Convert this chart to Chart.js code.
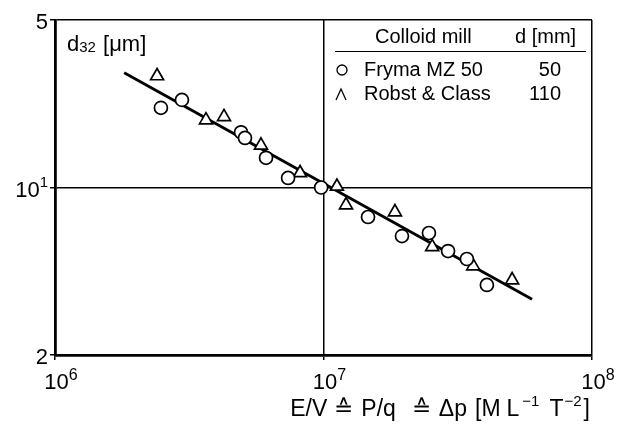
<!DOCTYPE html>
<html><head><meta charset="utf-8">
<script src="https://cdn.jsdelivr.net/npm/chart.js@4/dist/chart.umd.min.js"></script>
<style>html,body{margin:0;padding:0;background:#fff;} #wrap{width:617px;height:427px;position:relative;}</style>
</head><body><div id="wrap"><canvas id="c" width="617" height="427" style="width:617px;height:427px;"></canvas></div>
<script>
// Fryma MZ 50 (circles)
const frymaX = [2.48e6, 2.97e6, 4.93e6, 5.10e6, 6.11e6, 7.38e6, 9.8e6, 1.465e7, 1.96e7, 2.47e7, 2.91e7, 3.42e7, 4.06e7];
const frymaY = [21.5, 23.2, 17.0, 16.1, 13.3, 10.96, 10.0, 7.53, 6.27, 6.46, 5.43, 5.03, 3.92];
// Robst & Class (triangles)
const robstX = [2.40e6, 3.65e6, 4.26e6, 5.85e6, 8.18e6, 1.122e7, 1.213e7, 1.845e7, 2.54e7, 3.61e7, 5.04e7];
const robstY = [29.2, 19.1, 19.7, 15.0, 11.5, 10.1, 8.45, 7.9, 5.65, 4.70, 4.11];
// fitted line
const fitX = [1.81e6, 5.98e7];
const fitY = [30.1, 3.42];
// ticks: [base, exponent]
const xTickValues = [1e6, 1e7, 1e8];
const xTickLabels = [['10', '6'], ['10', '7'], ['10', '8']];
const yTickValues = [2, 10, 50];
const yTickLabels = [['2', ''], ['10', '1'], ['5', '']];
// legend table
const legendHeader = ['Colloid mill', 'd [mm]'];
const legendNames = ['Fryma MZ 50', 'Robst & Class'];
const legendSizes = ['50', '110'];
// axis titles: [text, kind (0 normal, 1 superscript, 2 subscript), gap before]
const xTitleParts = [['E/V', 0, 0], ['≙', 0, 7], ['P/q', 0, 8], ['≙', 0, 16], ['Δp', 0, 8], ['[M', 0, 8], ['L', 0, 6], ['−1', 1, 3], ['T', 0, 10], ['−2', 1, 1], [']', 0, 2]];
const yTitleParts = [['d', 0], ['32', 2], [' [μm]', 0]];

const FONT = '"Liberation Sans", Arial, Helvetica, sans-serif';
const pts = (xs, ys) => xs.map((x, i) => ({x: x, y: ys[i]}));

function drawPow(ctx, base, sup, x, y, align, size, ssize) {
  ctx.font = size + 'px ' + FONT;
  const wb = ctx.measureText(base).width;
  ctx.font = ssize + 'px ' + FONT;
  const ws = sup ? ctx.measureText(sup).width : 0;
  let x0 = align === 'right' ? x - wb - ws : (align === 'center' ? x - (wb + ws) / 2 : x);
  ctx.textAlign = 'left';
  ctx.font = size + 'px ' + FONT;
  ctx.fillText(base, x0, y);
  if (sup) {
    ctx.font = ssize + 'px ' + FONT;
    ctx.fillText(sup, x0 + wb, y - size * 0.33);
  }
}

const annot = {
  id: 'annot',
  afterDraw(chart) {
    const ctx = chart.ctx;
    const xs = chart.scales.x, ys = chart.scales.y;
    ctx.save();
    ctx.fillStyle = '#000';
    ctx.strokeStyle = '#000';
    ctx.textBaseline = 'middle';
    // tick labels
    xTickValues.forEach((v, i) => {
      drawPow(ctx, xTickLabels[i][0], xTickLabels[i][1], xs.getPixelForValue(v) + 6, xs.top + 28, 'center', 22, 16);
    });
    yTickValues.forEach((v, i) => {
      drawPow(ctx, yTickLabels[i][0], yTickLabels[i][1], ys.right - 7, ys.getPixelForValue(v) + 3, 'right', 22, 15);
    });
    // x axis title, laid out left to right, right-aligned to the plot edge
    const NS = 23, SS = 15;
    let total = 0;
    xTitleParts.forEach(p => {
      ctx.font = (p[1] ? SS : NS) + 'px ' + FONT;
      total += p[2] + ctx.measureText(p[0]).width;
    });
    let tx = xs.right - 2 - total;
    const ty = xs.bottom - 17;
    ctx.textAlign = 'left';
    xTitleParts.forEach(p => {
      tx += p[2];
      ctx.font = (p[1] ? SS : NS) + 'px ' + FONT;
      ctx.fillText(p[0], tx, p[1] ? ty - 8 : ty);
      tx += ctx.measureText(p[0]).width;
    });
    // d32 label
    let x = ys.right + 12, y = chart.chartArea.top + 25;
    yTitleParts.forEach(p => {
      if (p[1] === 2) { ctx.font = '15px ' + FONT; ctx.fillText(p[0], x, y + 3); x += ctx.measureText(p[0]).width + 1; }
      else { ctx.font = '22px ' + FONT; ctx.fillText(p[0], x, y); x += ctx.measureText(p[0]).width; }
    });
    // legend header
    ctx.font = '20px ' + FONT;
    ctx.textAlign = 'left';
    ctx.fillText(legendHeader[0], 375, 37);
    ctx.fillText(legendHeader[1], 515, 37);
    ctx.lineWidth = 1;
    ctx.beginPath(); ctx.moveTo(335, 51.5); ctx.lineTo(586, 51.5); ctx.stroke();
    // rows
    const rowY = [70, 94];
    ctx.font = '20px ' + FONT;
    for (let i = 0; i < 2; i++) {
      ctx.textAlign = 'left';
      ctx.fillText(legendNames[i], 364, rowY[i]);
      ctx.textAlign = 'right';
      ctx.fillText(legendSizes[i], 561, rowY[i]);
    }
    ctx.lineWidth = 1.3;
    ctx.beginPath(); ctx.arc(342, rowY[0], 5, 0, Math.PI * 2); ctx.stroke();
    ctx.beginPath();
    ctx.moveTo(336, rowY[1] + 6); ctx.lineTo(341, rowY[1] - 5); ctx.lineTo(346, rowY[1] + 6);
    ctx.stroke();
    ctx.restore();
  }
};

new Chart(document.getElementById('c'), {
  type: 'scatter',
  data: {
    datasets: [
      {label: 'Fryma MZ 50', data: pts(frymaX, frymaY), pointStyle: 'circle', pointRadius: 6.5,
       pointBackgroundColor: '#fff', pointBorderColor: '#000', pointBorderWidth: 1.7},
      {label: 'Robst & Class', data: pts(robstX, robstY), pointStyle: 'triangle', pointRadius: 7.5,
       pointBackgroundColor: '#fff', pointBorderColor: '#000', pointBorderWidth: 1.7},
      {type: 'line', label: 'fit', data: pts(fitX, fitY), borderColor: '#000', borderWidth: 2.8,
       pointRadius: 0, fill: false, tension: 0}
    ]
  },
  options: {
    responsive: false,
    maintainAspectRatio: false,
    animation: false,
    devicePixelRatio: 1,
    layout: {padding: {left: 0, right: 25, top: 20, bottom: 0}},
    plugins: {legend: {display: false}, tooltip: {enabled: false}, title: {display: false}},
    scales: {
      x: {
        type: 'logarithmic', min: 1e6, max: 1e8,
        afterBuildTicks: s => { s.ticks = xTickValues.map(v => ({value: v, major: true})); },
        afterFit: s => { s.height = 72; },
        ticks: {display: false},
        grid: {color: '#000', lineWidth: 1.5, drawTicks: true, tickLength: 5, tickColor: '#000', tickWidth: 1.5},
        border: {display: true, color: '#000', width: 2.8}
      },
      y: {
        type: 'logarithmic', min: 2, max: 50,
        afterBuildTicks: s => { s.ticks = yTickValues.map(v => ({value: v, major: true})); },
        afterFit: s => { s.width = 55; },
        ticks: {display: false},
        grid: {color: '#000', lineWidth: 1.5, drawTicks: true, tickLength: 5, tickColor: '#000', tickWidth: 1.5},
        border: {display: true, color: '#000', width: 2.8}
      }
    }
  },
  plugins: [annot]
});
</script></body></html>
